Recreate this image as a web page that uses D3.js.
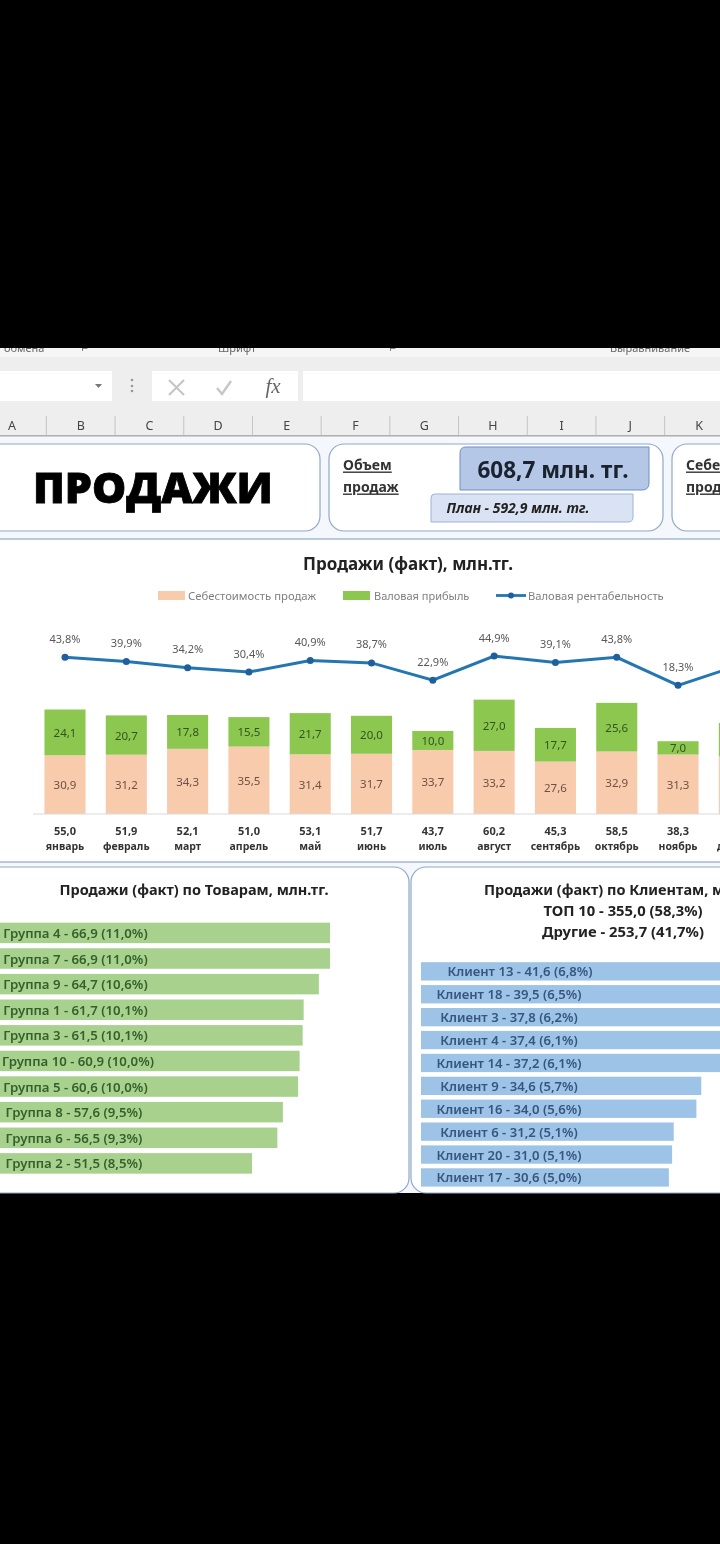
<!DOCTYPE html>
<html lang="ru"><head><meta charset="utf-8">
<script src="https://cdnjs.cloudflare.com/ajax/libs/d3/7.8.5/d3.min.js"></script>
<style>
html,body{margin:0;padding:0;background:#000;width:720px;height:1544px;overflow:hidden}
svg{display:block;filter:blur(0.5px)}
text{font-family:"Noto Sans","Open Sans",sans-serif}
</style></head><body><div id="c"></div>
<script>
const months=["январь","февраль","март","апрель","май","июнь","июль","август","сентябрь","октябрь","ноябрь","декабрь"];
const totals=[55.0,51.9,52.1,51.0,53.1,51.7,43.7,60.2,45.3,58.5,38.3,47.9];
const cost=[30.9,31.2,34.3,35.5,31.4,31.7,33.7,33.2,27.6,32.9,31.3,30.3];
const profit=[24.1,20.7,17.8,15.5,21.7,20.0,10.0,27.0,17.7,25.6,7.0,17.6];
const margin=[43.8,39.9,34.2,30.4,40.9,38.7,22.9,44.9,39.1,43.8,18.3,36.7];
const groups=["Группа 4","Группа 7","Группа 9","Группа 1","Группа 3","Группа 10","Группа 5","Группа 8","Группа 6","Группа 2"];
const groupVals=[66.9,66.9,64.7,61.7,61.5,60.9,60.6,57.6,56.5,51.5];
const groupPct=[11.0,11.0,10.6,10.1,10.1,10.0,10.0,9.5,9.3,8.5];
const clients=["Клиент 13","Клиент 18","Клиент 3","Клиент 4","Клиент 14","Клиент 9","Клиент 16","Клиент 6","Клиент 20","Клиент 17"];
const clientVals=[41.6,39.5,37.8,37.4,37.2,34.6,34.0,31.2,31.0,30.6];
const clientPct=[6.8,6.5,6.2,6.1,6.1,5.7,5.6,5.1,5.1,5.0];
const columns=["A","B","C","D","E","F","G","H","I","J","K"];
const legendNames=["Себестоимость продаж","Валовая прибыль","Валовая рентабельность"];

const comma=v=>v.toFixed(1).replace(".",",");
const svg=d3.select("#c").append("svg").attr("width",720).attr("height",1544);
const T=(g,x,y,s,o={})=>{const t=g.append("text").attr("x",x).attr("y",y).text(s)
  .attr("font-size",o.size||11).attr("font-weight",o.w||400).attr("fill",o.fill||"#333")
  .attr("text-anchor",o.a||"middle").attr("dominant-baseline","central")
  .attr("font-style",o.it||null).attr("text-decoration",o.deco||null);
  if(o.fam)t.style("font-family",o.fam);return t;};

/* ---- Excel chrome ---- */
const ch=svg.append("g");
ch.append("rect").attr("x",0).attr("y",348).attr("width",720).attr("height",89).attr("fill","#eeeeee");
ch.append("rect").attr("x",0).attr("y",348).attr("width",720).attr("height",9).attr("fill","#f5f5f5");
[[4,"обмена","start"],[85,"⌐","middle"],[237,"Шрифт","middle"],[393,"⌐","middle"],[650,"Выравнивание","middle"]].forEach(([x,s,a])=>
  T(ch,x,347,s,{size:11,fill:"#666",a}));
ch.append("rect").attr("x",0).attr("y",371).attr("width",112).attr("height",30).attr("fill","#fff");
ch.append("path").attr("d","M95 384h7l-3.5 4z").attr("fill","#777");
[380,386,391].forEach(y=>ch.append("circle").attr("cx",132).attr("cy",y).attr("r",1.3).attr("fill","#999"));
ch.append("rect").attr("x",152).attr("y",371).attr("width",146).attr("height",30).attr("fill","#fff");
ch.append("rect").attr("x",303).attr("y",371).attr("width",417).attr("height",30).attr("fill","#fff");
ch.append("path").attr("d","M169 380l15 15M184 380l-15 15").attr("stroke","#c6c6c6").attr("stroke-width",2.2).attr("fill","none");
ch.append("path").attr("d","M217 388l5 6 9-13").attr("stroke","#c6c6c6").attr("stroke-width",2.4).attr("fill","none");
T(ch,273,386,"fx",{size:21,it:"italic",fam:"'Liberation Serif',serif",fill:"#666"});
const colX=d3.scalePoint().domain(columns).range([12,699]);
columns.forEach(c=>T(ch,colX(c),425,c,{size:12.5,fill:"#444"}));
d3.range(10).forEach(i=>{const x=(colX(columns[i])+colX(columns[i+1]))/2;
  ch.append("line").attr("x1",x).attr("x2",x).attr("y1",416).attr("y2",435).attr("stroke","#c4c4c4")});
ch.append("rect").attr("x",0).attr("y",435).attr("width",720).attr("height",1.5).attr("fill","#b0b0b0");
svg.append("rect").attr("x",0).attr("y",437).attr("width",720).attr("height",756).attr("fill","#f4f7fb");

/* ---- panels ---- */
const panel=(x,y,w,h,r)=>svg.append("rect").attr("x",x).attr("y",y).attr("width",w).attr("height",h).attr("rx",r)
  .attr("fill","#fff").attr("stroke","#8fa9c9").attr("stroke-width",1.2);
panel(-30,444,350,87,15);
panel(329,444,334,87,15);
panel(672,444,90,87,15);
panel(-30,539,800,323,0);
panel(-30,867,439,326,15);
panel(411,867,340,326,15);

const head=svg.append("g");
T(head,153,486,"ПРОДАЖИ",{size:43,w:800,fill:"#000",fam:"'Open Sans',sans-serif"}).attr("stroke","#000").attr("stroke-width",0.8);
T(head,343,464,"Объем",{size:14,w:700,a:"start",deco:"underline"});
T(head,343,486,"продаж",{size:14,w:700,a:"start",deco:"underline"});
T(head,686,464,"Себестоимость",{size:14,w:700,a:"start",deco:"underline"});
T(head,686,486,"продаж",{size:14,w:700,a:"start",deco:"underline"});
head.append("path").attr("d","M466 447H649V483q0 7-7 7H460V453q0-6 6-6z").attr("fill","#b4c7e7").attr("stroke","#6f8fc6");
T(head,553,469,"608,7 млн. тг.",{size:22.5,w:700,fill:"#1a2230"});
head.append("path").attr("d","M435 494H633V517q0 5-5 5H431V498q0-4 4-4z").attr("fill","#dae3f3").attr("stroke","#9db3d8");
T(head,518,507,"План - 592,9 млн. тг.",{size:14,w:700,it:"italic",fill:"#222"});

/* ---- main chart ---- */
const xB=d3.scaleBand().domain(months).range([34.35,770]).paddingInner(0.33).paddingOuter(0.165);
const yB=d3.scaleLinear().domain([0,60]).range([814,700]);
const yL=d3.scaleLinear().domain([0,50]).range([705.4,650.5]);
const m=svg.append("g");
T(m,408,563,"Продажи (факт), млн.тг.",{size:17,w:700,fill:"#222"});
const lg=m.append("g");
lg.append("rect").attr("x",158).attr("y",591).attr("width",27).attr("height",9).attr("fill","#f8cbad");
T(lg,188,595,legendNames[0],{size:11.3,fill:"#7f7f7f",a:"start"});
lg.append("rect").attr("x",343).attr("y",591).attr("width",27).attr("height",9).attr("fill","#8cc850");
T(lg,374,595,legendNames[1],{size:11,fill:"#7f7f7f",a:"start"});
lg.append("line").attr("x1",496).attr("x2",526).attr("y1",595.5).attr("y2",595.5).attr("stroke","#2476b0").attr("stroke-width",2.8);
lg.append("circle").attr("cx",511).attr("cy",595.5).attr("r",3).attr("fill","#1f5f9c");
T(lg,528,595,legendNames[2],{size:11.2,fill:"#7f7f7f",a:"start"});

m.selectAll(".c").data(months).join("rect").attr("x",d=>xB(d)).attr("width",xB.bandwidth())
  .attr("y",(d,i)=>yB(cost[i])).attr("height",(d,i)=>yB(0)-yB(cost[i])).attr("fill","#f8cbad");
m.selectAll(".p").data(months).join("rect").attr("class","p").attr("x",d=>xB(d)).attr("width",xB.bandwidth())
  .attr("y",(d,i)=>yB(cost[i]+profit[i])).attr("height",(d,i)=>yB(0)-yB(profit[i])).attr("fill","#8cc850");
months.forEach((d,i)=>{const cx=xB(d)+xB.bandwidth()/2;
  T(m,cx,yB(cost[i]/2),comma(cost[i]),{size:11.5,fill:"#6e5044"});
  T(m,cx,yB(cost[i]+profit[i]/2),comma(profit[i]),{size:11.5,fill:"#33521e"});
  T(m,cx,yL(margin[i])-19,comma(margin[i])+"%",{size:11,fill:"#595959"});
  T(m,cx,830,comma(totals[i]),{size:11,w:700,fill:"#333"});
});
const axis=m.append("g").attr("transform","translate(0,814)").call(d3.axisBottom(xB).tickSize(0).tickPadding(28.5));
axis.select(".domain").attr("d","M33,0H720").attr("stroke","#d9d9d9");
axis.selectAll("text").attr("font-size",10.5).attr("font-weight",700).attr("fill","#333");
m.append("path").datum(margin)
  .attr("d",d3.line().x((d,i)=>xB(months[i])+xB.bandwidth()/2).y(d=>yL(d)))
  .attr("fill","none").attr("stroke","#2476b0").attr("stroke-width",3);
m.selectAll(".pt").data(margin).join("circle").attr("cx",(d,i)=>xB(months[i])+xB.bandwidth()/2)
  .attr("cy",d=>yL(d)).attr("r",3.5).attr("fill","#1f5f9c");

/* ---- groups ---- */
const gx=d3.scaleLinear().domain([0,66.9]).range([-8.7,330]);
const gy=d3.scaleBand().domain(groups).range([920.1,1176.2]).paddingInner(0.2).paddingOuter(0.1);
const gg=svg.append("g");
T(gg,194,889,"Продажи (факт) по Товарам, млн.тг.",{size:14.5,w:700,fill:"#222"});
gg.selectAll("rect").data(groups).join("rect").attr("x",gx(0)).attr("y",d=>gy(d)).attr("height",gy.bandwidth())
  .attr("width",(d,i)=>gx(groupVals[i])-gx(0)).attr("fill","#a9d18e");
groups.forEach((d,i)=>T(gg,i==5?78:(i>6?74:75.5),gy(d)+gy.bandwidth()/2,`${d} - ${comma(groupVals[i])} (${comma(groupPct[i])}%)`,{size:13.2,w:600,fill:"#34602c"}));

/* ---- clients ---- */
const cx=d3.scaleLinear().domain([0,40]).range([421,745]);
const cy=d3.scaleBand().domain(clients).range([959.9,1188.9]).paddingInner(0.2).paddingOuter(0.1);
const cg=svg.append("g");
T(cg,484,889,"Продажи (факт) по Клиентам, млн.тг.",{size:14.5,w:700,fill:"#222",a:"start"});
T(cg,623,910,"ТОП 10 - 355,0 (58,3%)",{size:14.8,w:700,fill:"#222"});
T(cg,623,931,"Другие - 253,7 (41,7%)",{size:14.8,w:700,fill:"#222"});
cg.selectAll("rect").data(clients).join("rect").attr("x",cx(0)).attr("y",d=>cy(d)).attr("height",cy.bandwidth())
  .attr("width",(d,i)=>cx(clientVals[i])-cx(0)).attr("fill","#9dc3e6");
clients.forEach((d,i)=>T(cg,i==0?520:509,cy(d)+cy.bandwidth()/2,`${d} - ${comma(clientVals[i])} (${comma(clientPct[i])}%)`,{size:13.1,w:600,fill:"#365680"}));

/* bottom edge and black mask */
svg.append("rect").attr("x",0).attr("y",0).attr("width",720).attr("height",348).attr("fill","#000");
svg.append("rect").attr("x",0).attr("y",1194).attr("width",720).attr("height",350).attr("fill","#000");
</script></body></html>
